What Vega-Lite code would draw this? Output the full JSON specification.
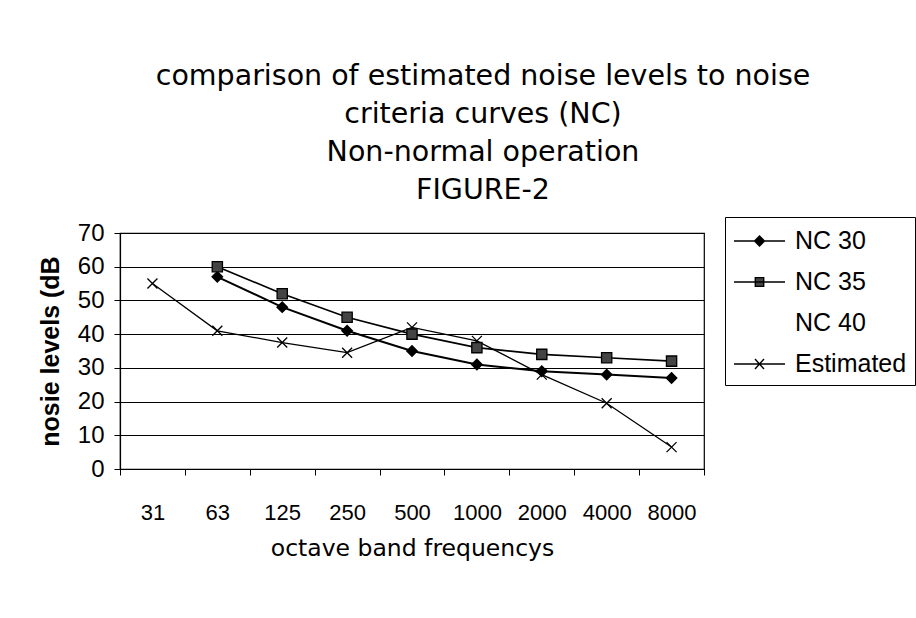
{
  "$schema": "https://vega.github.io/schema/vega-lite/v6.json",
  "width": 584,
  "height": 236,
  "autosize": {"type": "none"},
  "padding": {"left": 120, "top": 233, "right": 212, "bottom": 149},
  "background": "white",
  "title": {
    "text": ["comparison of estimated noise levels to noise", "criteria curves (NC)", "Non-normal operation", "FIGURE-2"],
    "font": "DejaVu Sans",
    "fontSize": 28.5,
    "fontWeight": "normal",
    "lineHeight": 38,
    "color": "black",
    "anchor": "middle",
    "frame": "group",
    "dx": 71,
    "offset": 12
  },
  "config": {
    "view": {"stroke": "black", "strokeWidth": 1.2},
    "axis": {"domainColor": "black", "tickColor": "black", "labelColor": "black", "titleColor": "black", "gridColor": "black", "gridOpacity": 1}
  },
  "data": {
    "values": [
      {"freq": "31", "series": "Estimated", "level": 55},
      {"freq": "63", "series": "Estimated", "level": 41},
      {"freq": "125", "series": "Estimated", "level": 37.5},
      {"freq": "250", "series": "Estimated", "level": 34.5},
      {"freq": "500", "series": "Estimated", "level": 42},
      {"freq": "1000", "series": "Estimated", "level": 38},
      {"freq": "2000", "series": "Estimated", "level": 28},
      {"freq": "4000", "series": "Estimated", "level": 19.5},
      {"freq": "8000", "series": "Estimated", "level": 6.5},
      {"freq": "63", "series": "NC 30", "level": 57},
      {"freq": "125", "series": "NC 30", "level": 48},
      {"freq": "250", "series": "NC 30", "level": 41},
      {"freq": "500", "series": "NC 30", "level": 35},
      {"freq": "1000", "series": "NC 30", "level": 31},
      {"freq": "2000", "series": "NC 30", "level": 29},
      {"freq": "4000", "series": "NC 30", "level": 28},
      {"freq": "8000", "series": "NC 30", "level": 27},
      {"freq": "63", "series": "NC 35", "level": 60},
      {"freq": "125", "series": "NC 35", "level": 52},
      {"freq": "250", "series": "NC 35", "level": 45},
      {"freq": "500", "series": "NC 35", "level": 40},
      {"freq": "1000", "series": "NC 35", "level": 36},
      {"freq": "2000", "series": "NC 35", "level": 34},
      {"freq": "4000", "series": "NC 35", "level": 33},
      {"freq": "8000", "series": "NC 35", "level": 32}
    ]
  },
  "encoding": {
    "x": {
      "field": "freq",
      "type": "ordinal",
      "sort": ["31", "63", "125", "250", "500", "1000", "2000", "4000", "8000"],
      "scale": {"type": "band", "paddingInner": 0, "paddingOuter": 0},
      "bandPosition": 0.5,
      "axis": {
        "title": "octave band frequencys",
        "titleFont": "DejaVu Sans",
        "titleFontSize": 23.5,
        "titleFontWeight": "normal",
        "titlePadding": 13,
        "labelFont": "Liberation Sans",
        "labelFontSize": 22,
        "labelAngle": 0,
        "labelPadding": 27,
        "tickBand": "extent",
        "tickSize": 6,
        "domainWidth": 1.2,
        "grid": false
      }
    },
    "y": {
      "field": "level",
      "type": "quantitative",
      "scale": {"domain": [0, 70]},
      "axis": {
        "title": "nosie levels (dB",
        "titleFont": "Liberation Sans",
        "titleFontSize": 25,
        "titleFontWeight": "bold",
        "titlePadding": 14,
        "labelFont": "Liberation Sans",
        "labelFontSize": 24,
        "labelPadding": 10,
        "values": [0, 10, 20, 30, 40, 50, 60, 70],
        "tickSize": 6,
        "domainWidth": 1.2,
        "grid": true,
        "gridWidth": 1.2
      }
    }
  },
  "layer": [
    {
      "mark": {"type": "line", "color": "black"},
      "encoding": {
        "color": {
          "field": "series",
          "type": "nominal",
          "scale": {"domain": ["NC 30", "NC 35", "NC 40", "Estimated"], "range": ["black", "black", "transparent", "black"]},
          "legend": {
            "orient": "none",
            "legendX": 605,
            "legendY": -16,
            "title": null,
            "padding": 8,
            "strokeColor": "black",
            "symbolSize": 900,
            "labelOffset": 30,
            "rowPadding": 12,
            "labelFont": "Liberation Sans",
            "labelFontSize": 25,
            "labelColor": "black",
            "encode": {
              "symbols": {
                "update": {
                  "shape": {"signal": "datum.value === 'NC 30' ? 'M-1,0H2.4M0.7,-0.33L1.03,0L0.7,0.33L0.37,0Z' : datum.value === 'NC 35' ? 'M-1,0H2.4M0.42,-0.29H0.98V0.29H0.42Z' : datum.value === 'Estimated' ? 'M-1,0H2.4M0.4,-0.33L1,0.33M0.4,0.33L1,-0.33' : 'M0,0'"},
                  "fill": {"signal": "datum.value === 'NC 35' ? '#444' : datum.value === 'NC 30' ? 'black' : 'transparent'"},
                  "stroke": {"signal": "datum.value === 'NC 40' ? 'transparent' : 'black'"},
                  "strokeWidth": {"value": 1.4},
                  "opacity": {"value": 1}
                }
              }
            }
          }
        },
        "strokeWidth": {
          "field": "series",
          "type": "nominal",
          "scale": {"domain": ["NC 30", "NC 35", "Estimated"], "range": [2, 1.3, 1.3]},
          "legend": null
        }
      }
    },
    {
      "mark": {"type": "point", "filled": true, "opacity": 1, "stroke": "black", "strokeWidth": 1.3},
      "encoding": {
        "shape": {
          "field": "series",
          "type": "nominal",
          "scale": {"domain": ["NC 30", "NC 35", "Estimated"], "range": ["diamond", "square", "M-1,-1L1,1M-1,1L1,-1"]},
          "legend": null
        },
        "fill": {
          "field": "series",
          "type": "nominal",
          "scale": {"domain": ["NC 30", "NC 35", "Estimated"], "range": ["black", "#444", "transparent"]},
          "legend": null
        },
        "size": {
          "field": "series",
          "type": "nominal",
          "scale": {"domain": ["NC 30", "NC 35", "Estimated"], "range": [110, 100, 120]},
          "legend": null
        }
      }
    }
  ]
}
